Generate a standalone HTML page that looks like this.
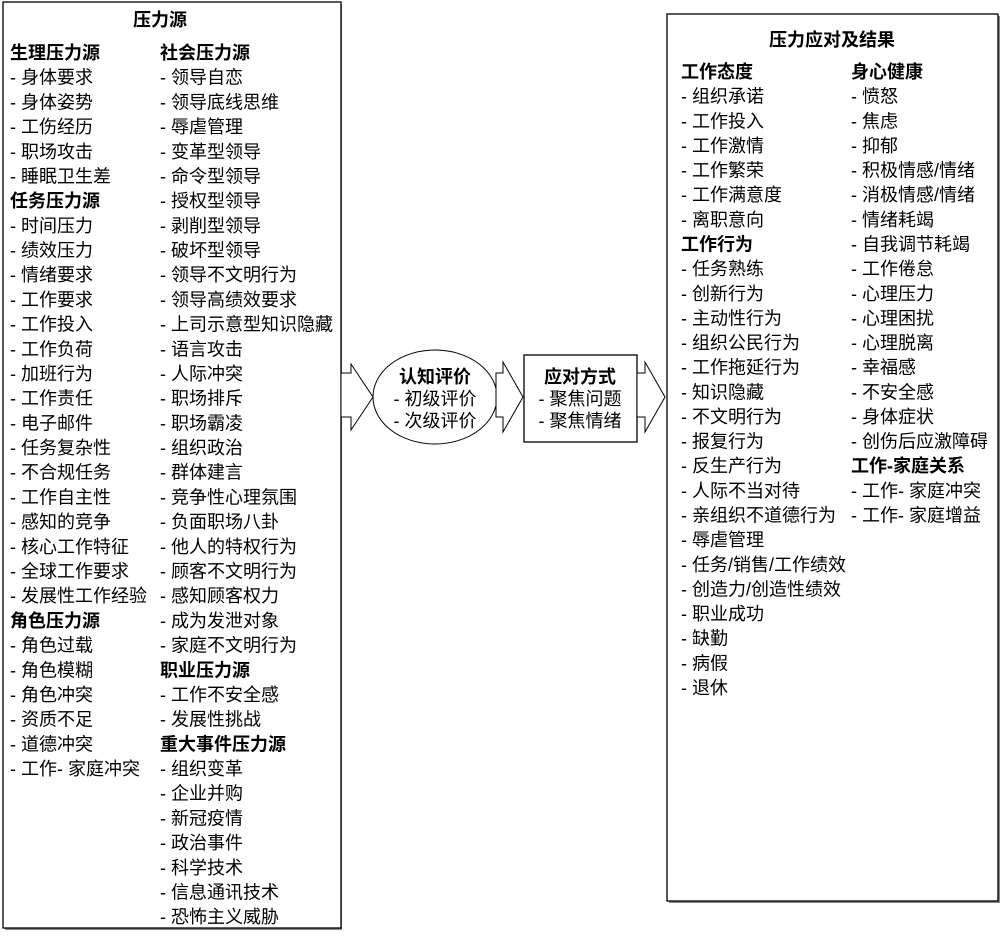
<!DOCTYPE html>
<html><head><meta charset="utf-8"><style>
html,body{margin:0;padding:0;background:#fff;}
svg text{font-family:"Liberation Sans","Noto Sans CJK SC",sans-serif;font-size:18px;fill:#000;dominant-baseline:central;}
.b{font-weight:bold;}
</style></head><body>
<svg width="1000" height="931" viewBox="0 0 1000 931" xmlns="http://www.w3.org/2000/svg">
<rect x="5" y="4" width="337" height="926" fill="#888"/>
<rect x="3" y="2" width="338" height="926" fill="#fff" stroke="#000" stroke-width="1.3"/>
<rect x="669" y="16" width="331" height="887" fill="#888"/>
<rect x="667" y="14" width="331" height="887" fill="#fff" stroke="#000" stroke-width="1.3"/>
<polygon points="341,373 351,373 351,364 373,397 351,430 351,417 341,417" fill="#fff" stroke="#000" stroke-width="1"/>
<ellipse cx="435" cy="397" rx="62" ry="47" fill="#fff" stroke="#000" stroke-width="1"/>
<polygon points="496,373 503,373 503,362 523,397 503,432 503,417 496,417" fill="#fff" stroke="#000" stroke-width="1"/>
<rect x="524" y="355" width="113" height="87" fill="#fff" stroke="#000" stroke-width="1.3"/>
<polygon points="637,373 645,373 645,362 665,397 645,432 645,417 637,417" fill="#fff" stroke="#000" stroke-width="1"/>
<text class="b" x="435" y="377" text-anchor="middle">认知评价</text>
<text x="435" y="399" text-anchor="middle">- 初级评价</text>
<text x="435" y="421" text-anchor="middle">- 次级评价</text>
<text class="b" x="580" y="377" text-anchor="middle">应对方式</text>
<text x="580" y="399" text-anchor="middle">- 聚焦问题</text>
<text x="580" y="421" text-anchor="middle">- 聚焦情绪</text>
<text class="b" x="160" y="20" text-anchor="middle">压力源</text>
<text class="b" x="832" y="40" text-anchor="middle">压力应对及结果</text>
<script>
function col(x,y0,dy,items){var ns="http://www.w3.org/2000/svg",s=document.querySelector('svg');items.forEach(function(t,i){var e=document.createElementNS(ns,'text');var bold=t[0]=='*';if(bold){t=t.slice(1);e.setAttribute('class','b');}e.setAttribute('x',x);e.setAttribute('y',(y0+dy*i).toFixed(1));e.textContent=t;s.appendChild(e);});}
col(10,53,24.69,["*生理压力源","- 身体要求","- 身体姿势","- 工伤经历","- 职场攻击","- 睡眠卫生差","*任务压力源","- 时间压力","- 绩效压力","- 情绪要求","- 工作要求","- 工作投入","- 工作负荷","- 加班行为","- 工作责任","- 电子邮件","- 任务复杂性","- 不合规任务","- 工作自主性","- 感知的竞争","- 核心工作特征","- 全球工作要求","- 发展性工作经验","*角色压力源","- 角色过载","- 角色模糊","- 角色冲突","- 资质不足","- 道德冲突","- 工作- 家庭冲突"]);
col(160,53,24.69,["*社会压力源","- 领导自恋","- 领导底线思维","- 辱虐管理","- 变革型领导","- 命令型领导","- 授权型领导","- 剥削型领导","- 破坏型领导","- 领导不文明行为","- 领导高绩效要求","- 上司示意型知识隐藏","- 语言攻击","- 人际冲突","- 职场排斥","- 职场霸凌","- 组织政治","- 群体建言","- 竞争性心理氛围","- 负面职场八卦","- 他人的特权行为","- 顾客不文明行为","- 感知顾客权力","- 成为发泄对象","- 家庭不文明行为","*职业压力源","- 工作不安全感","- 发展性挑战","*重大事件压力源","- 组织变革","- 企业并购","- 新冠疫情","- 政治事件","- 科学技术","- 信息通讯技术","- 恐怖主义威胁"]);
col(681,72,24.64,["*工作态度","- 组织承诺","- 工作投入","- 工作激情","- 工作繁荣","- 工作满意度","- 离职意向","*工作行为","- 任务熟练","- 创新行为","- 主动性行为","- 组织公民行为","- 工作拖延行为","- 知识隐藏","- 不文明行为","- 报复行为","- 反生产行为","- 人际不当对待","- 亲组织不道德行为","- 辱虐管理","- 任务/销售/工作绩效","- 创造力/创造性绩效","- 职业成功","- 缺勤","- 病假","- 退休"]);
col(851,72,24.64,["*身心健康","-  愤怒","- 焦虑","- 抑郁","- 积极情感/情绪","- 消极情感/情绪","- 情绪耗竭","- 自我调节耗竭","- 工作倦怠","- 心理压力","- 心理困扰","- 心理脱离","- 幸福感","- 不安全感","- 身体症状","- 创伤后应激障碍","*工作-家庭关系","- 工作- 家庭冲突","- 工作- 家庭增益"]);
</script>
</svg>
</body></html>
